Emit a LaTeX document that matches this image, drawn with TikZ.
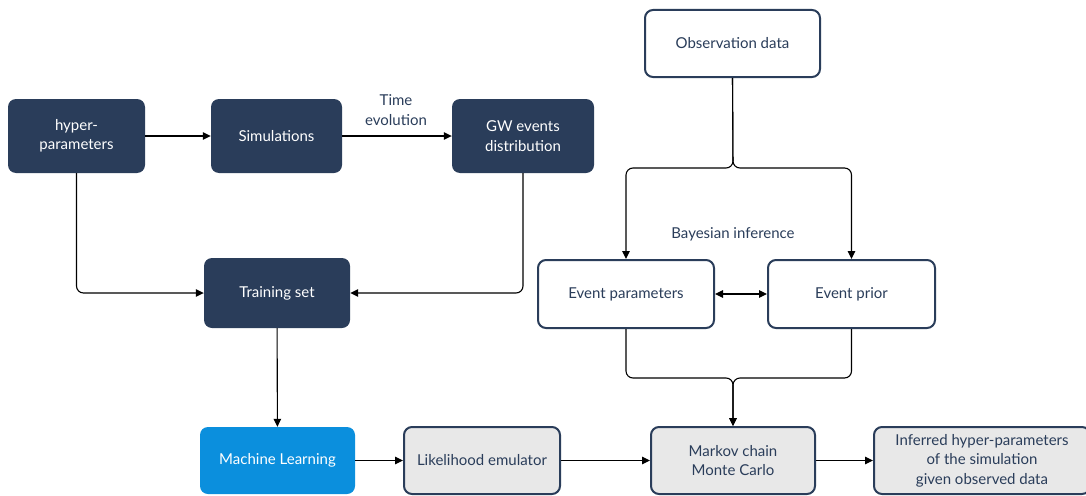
\documentclass[tikz,border=0pt]{standalone}
\usepackage{fontspec}
\setmainfont{Lato}
\usepackage{xcolor}
\usepackage{tikz}
\usetikzlibrary{arrows.meta}
\usetikzlibrary{positioning}
\definecolor{navy}{RGB}{42,61,90}
\definecolor{mlblue}{RGB}{11,143,221}
\definecolor{lightgrey}{RGB}{232,232,232}

\begin{document}
\begin{tikzpicture}[x=1pt,y=-1pt,
	box/.style={rounded corners=8pt,align=center,font=\fontsize{15}{19.5}\selectfont,inner sep=2pt},
	darkbox/.style={box,fill=navy,text=white},
	openbox/.style={box,draw=navy,line width=2pt,fill=white,text=navy},
	greybox/.style={box,draw=navy,line width=2pt,fill=lightgrey,text=navy},
	mlbox/.style={box,fill=mlblue,text=white},
	lbl/.style={text=navy,align=center,font=\fontsize{15}{19.5}\selectfont},
	arr/.style={line width=1.1pt,-{Triangle[length=8pt,width=7.5pt]},rounded corners=7pt}]
	
	\useasboundingbox (0,0) rectangle (1086,495);
	
	\node [darkbox,minimum width=137,minimum height=74] (hyper) at (76.5,136) {hyper-\\parameters};
	\node [darkbox,minimum width=131,minimum height=74] (sim) at (276.5,136) {Simulations};
	\node [darkbox,minimum width=142,minimum height=74] (gw) at (523,136) {GW events\\distribution};
	\node [darkbox,minimum width=146,minimum height=70] (train) at (277,293) {Training set};
	
	\node [lbl] (timeev) at (396,110) {Time\\evolution};
	
	\node [openbox,minimum width=175,minimum height=67] (obs) at (732.5,43.5) {Observation data};
	\node [openbox,minimum width=176,minimum height=68] (evpar) at (626,294) {Event parameters};
	\node [openbox,minimum width=167,minimum height=68] (evprior) at (851.5,294) {Event prior};
	
	\node [lbl] (bayes) at (733,234) {Bayesian inference};
	
	\node [mlbox,minimum width=155,minimum height=67] (ml) at (277.5,460.5) {Machine Learning};
	\node [greybox,minimum width=156,minimum height=67] (lik) at (482,460.5) {Likelihood emulator};
	\node [greybox,minimum width=164,minimum height=67] (mcmc) at (733,460.5) {Markov chain\\Monte Carlo};
	\node [greybox,minimum width=216,minimum height=67] (inf) at (982,460.5) {Inferred hyper-parameters\\of the simulation\\given observed data};
	
	\coordinate [] (split) at (733,168);
	\coordinate [] (merge) at (733,378);
	
	\draw[arr] (hyper) -- (sim);
	\draw[arr] (sim) -- (gw);
	\draw[arr] (hyper.south) |- (train.west);
	\draw[arr] (gw.south) |- (train.east);
	\draw[arr] (train) -- (ml);
	
	\draw[arr] (obs.south) -- (split) -| (evpar.north);
	\draw[arr] (obs.south) -- (split) -| (evprior.north);
	\draw[arr,{Triangle[length=8pt,width=7.5pt]}-{Triangle[length=8pt,width=7.5pt]}] (evpar) -- (evprior);
	
	\draw[arr] (evpar.south) |- (merge) -- (mcmc.north);
	\draw[arr] (evprior.south) |- (merge) -- (mcmc.north);
	
	\draw[arr] (ml) -- (lik);
	\draw[arr] (lik) -- (mcmc);
	\draw[arr] (mcmc) -- (inf);
	
\end{tikzpicture}
\end{document}
